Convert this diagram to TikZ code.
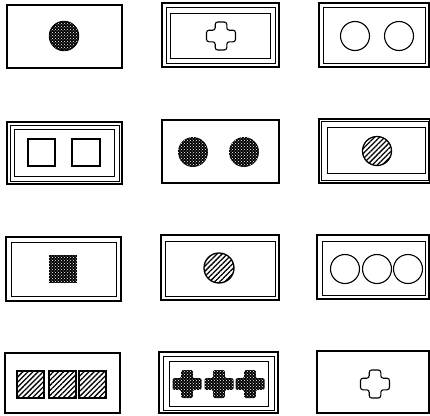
\documentclass[tikz,border=0pt]{standalone}
\usetikzlibrary{patterns,patterns.meta}
\tikzset{
  card/.style={draw=black, line width=1.2pt},
  cardin/.style={draw=black, line width=0.9pt},
  hollow/.style={draw=black, line width=1.1pt},
  hatch/.style={pattern={Lines[angle=45,distance=3.6pt,line width=1.3pt]}, pattern color=black},
}
\newcommand\darkdots[1]{%
  \fill[black] #1;
  \fill[pattern=crosshatch dots, pattern color=white] #1;}
\newcommand\plusat[2]{% center x,y ; arm width ~11.6, size 29x28
  (#1-14.5,#2-5.8) -- (#1-5.8,#2-5.8) -- (#1-5.8,#2-14) -- (#1+5.8,#2-14) -- (#1+5.8,#2-5.8)
  -- (#1+14.5,#2-5.8) -- (#1+14.5,#2+5.8) -- (#1+5.8,#2+5.8) -- (#1+5.8,#2+14)
  -- (#1-5.8,#2+14) -- (#1-5.8,#2+5.8) -- (#1-14.5,#2+5.8) -- cycle}
\begin{document}
\begin{tikzpicture}[x=1pt,y=-1pt]
\useasboundingbox (0,0) rectangle (430,415);
\fill[white] (0,0) rectangle (430,415);
% ---------- Row 1
\draw[card] (7,5) rectangle (122,68);
\darkdots{(64,36) circle (14.8)}
\draw[line width=0.8pt] (64,36) circle (14.8);

\draw[card] (162,3) rectangle (279,67);
\draw[cardin] (166,7) rectangle (275,63);
\draw[cardin] (170,13) rectangle (270,58);
\draw[hollow, rounded corners=2.5pt] \plusat{221}{36};

\draw[card] (319,3) rectangle (429,67);
\draw[cardin] (323,7) rectangle (425,63);
\draw[hollow] (355,36) circle (14.5);
\draw[hollow] (399,36) circle (14.5);
% ---------- Row 2
\draw[card] (7,122) rectangle (122,184);
\draw[cardin] (10,125) rectangle (119,181);
\draw[cardin] (14,129) rectangle (114,176);
\draw[hollow] (28,139) rectangle (55,166);
\draw[hollow] (72,139) rectangle (100,166);

\draw[card] (162,120) rectangle (279,183);
\darkdots{(193,152) circle (15)}
\darkdots{(244,152) circle (15)}

\draw[card] (319,119) rectangle (430,183);
\draw[cardin] (321.5,121.5) rectangle (428,180);
\draw[cardin] (327,127) rectangle (425,173.5);
\fill[hatch] (377,151) circle (14.5);
\draw[line width=1.3pt] (377,151) circle (14.5);
% ---------- Row 3
\draw[card] (6,237) rectangle (121,301);
\draw[cardin] (11,242) rectangle (116,296);
\darkdots{(49,255) rectangle (77,283)}

\draw[card] (161,235) rectangle (279,300);
\draw[cardin] (165,241) rectangle (275,296);
\fill[hatch] (219,268) circle (15);
\draw[line width=1.3pt] (219,268) circle (15);

\draw[card] (317,235) rectangle (429,299);
\draw[cardin] (322,241) rectangle (425,295);
\draw[hollow] (345,269) circle (14.5);
\draw[hollow] (377,269) circle (14.5);
\draw[hollow] (408,269) circle (14.5);
% ---------- Row 4
\draw[card] (5,353) rectangle (120,413);
\foreach \x in {17,49,79}{
  \fill[hatch] (\x,371) rectangle (\x+27,398);
  \draw[line width=1.1pt] (\x,371) rectangle (\x+27,398);
}

\draw[card] (159,352) rectangle (278,413);
\draw[cardin] (163,356) rectangle (274,410);
\draw[cardin] (169,361) rectangle (268,406);
\foreach \cx in {187,219,250}{
  \darkdots{[rounded corners=1.5pt] \plusat{\cx}{384}}
}

\draw[card] (317,351) rectangle (429,413);
\draw[hollow, rounded corners=2.5pt] \plusat{375}{384};
\end{tikzpicture}
\end{document}
